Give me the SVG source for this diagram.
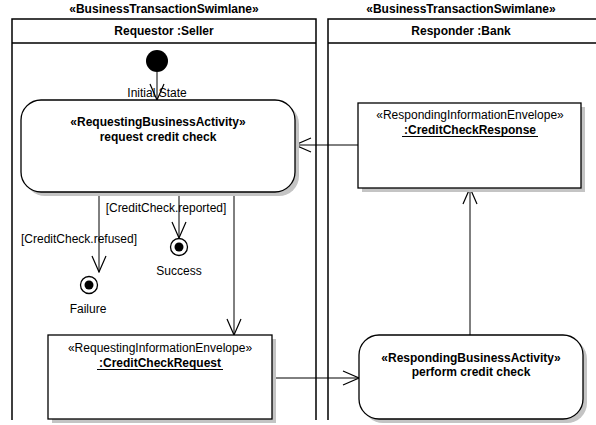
<svg xmlns="http://www.w3.org/2000/svg" width="596" height="425" viewBox="0 0 596 425">
  <style>
    text { font-family: "Liberation Sans", Arial, sans-serif; font-size: 12px; fill: #000; }
    .b { font-weight: bold; }
    .c { text-anchor: middle; }
    .lane { fill: none; stroke: #000; stroke-width: 1.5; }
    .node { fill: #fff; stroke: #000; stroke-width: 1.3; }
    .shadow { fill: #c4c4c4; stroke: none; }
    .edge { fill: none; stroke: #000; stroke-width: 1; marker-end: url(#open); }
    .ul { stroke: #000; stroke-width: 1; }
  </style>
  <defs>
    <!-- open "V" arrowhead shared by all flows -->
    <marker id="open" viewBox="0 0 18 16" refX="17" refY="8" markerWidth="18" markerHeight="16" markerUnits="userSpaceOnUse" orient="auto">
      <path d="M1,1 L17,8 L1,15" fill="none" stroke="#000" stroke-width="1.2"/>
    </marker>
  </defs>
  <rect width="596" height="425" fill="#fff"/>

  <!-- swimlanes -->
  <g id="lane-seller">
    <text class="b c" x="164" y="13">«BusinessTransactionSwimlane»</text>
    <path class="lane" d="M12,420 V19 H316 V420 M12,43 H316"/>
    <text class="b c" x="164" y="35">Requestor :Seller</text>
  </g>
  <g id="lane-bank">
    <text class="b c" x="461" y="13">«BusinessTransactionSwimlane»</text>
    <path class="lane" d="M328,420 V19 H600 M328,43 H600"/>
    <text class="b c" x="461" y="35">Responder :Bank</text>
  </g>

  <!-- connectors -->
  <g id="connectors">
    <path class="edge" d="M157,72 V100"/>
    <path class="edge" d="M99,192 V272"/>
    <path class="edge" d="M179,192 V238"/>
    <path class="edge" d="M234,192 V335"/>
    <path class="edge" d="M272,378 H359"/>
    <path class="edge" d="M470,335 V188"/>
    <path class="edge" d="M358,145 H295"/>
    <text class="c" x="157" y="97">Initial State</text>
    <text class="c" x="79" y="243">[CreditCheck.refused]</text>
    <text class="c" x="166" y="212">[CreditCheck.reported]</text>
  </g>

  <g id="initial">
    <circle cx="157" cy="61" r="11" fill="#000"/>
  </g>

  <g id="request-credit-check">
    <rect class="shadow" x="25" y="104" width="274" height="92" rx="20"/>
    <rect class="node" x="21" y="100" width="274" height="92" rx="20"/>
    <text class="b c" x="158" y="126">«RequestingBusinessActivity»</text>
    <text class="b c" x="158" y="141">request credit check</text>
  </g>

  <g id="success">
    <circle cx="179" cy="247" r="8.5" fill="#fff" stroke="#000" stroke-width="1.3"/>
    <circle cx="179" cy="247" r="4.5" fill="#000"/>
    <text class="c" x="179" y="275">Success</text>
  </g>

  <g id="failure">
    <circle cx="89" cy="285" r="8.5" fill="#fff" stroke="#000" stroke-width="1.3"/>
    <circle cx="89" cy="285" r="4.5" fill="#000"/>
    <text class="c" x="88" y="313">Failure</text>
  </g>

  <g id="credit-check-request">
    <rect class="shadow" x="52" y="339" width="224" height="84"/>
    <rect class="node" x="48" y="335" width="224" height="84"/>
    <text class="c" x="160" y="352">«RequestingInformationEnvelope»</text>
    <text class="b c" x="160" y="367">:CreditCheckRequest</text>
    <line class="ul" x1="97" y1="369.5" x2="223" y2="369.5"/>
  </g>

  <g id="perform-credit-check">
    <rect class="shadow" x="363" y="339" width="224" height="84" rx="20"/>
    <rect class="node" x="359" y="335" width="224" height="84" rx="20"/>
    <text class="b c" x="471" y="362">«RespondingBusinessActivity»</text>
    <text class="b c" x="471" y="376">perform credit check</text>
  </g>

  <g id="credit-check-response">
    <rect class="shadow" x="362" y="107" width="223" height="85"/>
    <rect class="node" x="358" y="103" width="223" height="85"/>
    <text class="c" x="470" y="119">«RespondingInformationEnvelope»</text>
    <text class="b c" x="470" y="134">:CreditCheckResponse</text>
    <line class="ul" x1="402" y1="136.5" x2="538" y2="136.5"/>
  </g>
</svg>
